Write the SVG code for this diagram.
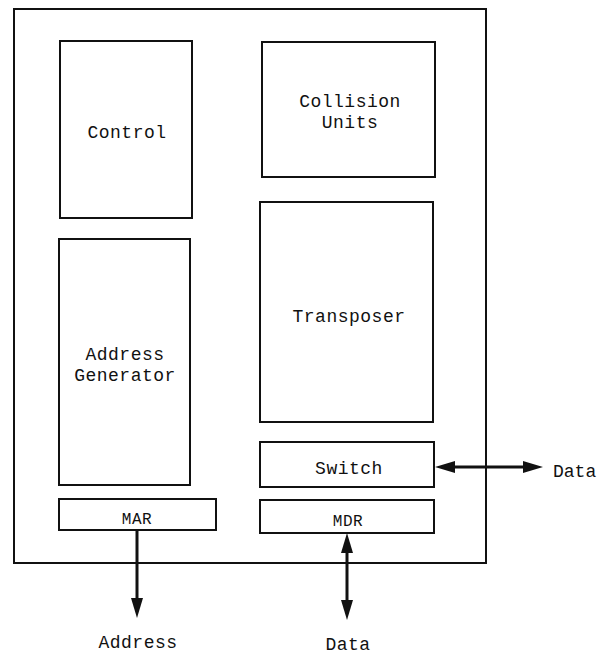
<svg xmlns="http://www.w3.org/2000/svg" width="599" height="654" viewBox="0 0 599 654">
<style>
.box{fill:#fff;stroke:#111;stroke-width:2}
.outer{fill:#fff;stroke:#111;stroke-width:2}
.t{font-family:"Liberation Mono","DejaVu Sans Mono",monospace;font-size:18px;letter-spacing:0.5px;fill:#111;text-anchor:middle}
.s{font-size:16px}
.c{stroke:#111;stroke-width:3;fill:none}
</style>
<defs>
<marker id="ah" viewBox="0 0 20 12" refX="10" refY="6" markerWidth="20" markerHeight="12" markerUnits="userSpaceOnUse" orient="auto-start-reverse">
<path d="M0,0 L20,6 L0,12 z" fill="#111"/>
</marker>
</defs>
<rect width="599" height="654" fill="#fff"/>
<g id="chip"><rect class="outer" x="14" y="9" width="472" height="554"/></g>
<g id="control"><rect class="box" x="60" y="41" width="132" height="177"/><text class="t" x="127" y="138">Control</text></g>
<g id="collision"><rect class="box" x="262" y="42" width="173" height="135"/><text class="t" x="350" y="107">Collision</text><text class="t" x="350" y="128">Units</text></g>
<g id="transposer"><rect class="box" x="260" y="202" width="173" height="220"/><text class="t" x="349" y="322">Transposer</text></g>
<g id="addrgen"><rect class="box" x="59" y="239" width="131" height="246"/><text class="t" x="125" y="360">Address</text><text class="t" x="125" y="381">Generator</text></g>
<g id="switch"><rect class="box" x="260" y="442" width="174" height="45"/><text class="t" x="349" y="474">Switch</text></g>
<g id="mar"><rect class="box" x="59" y="499" width="157" height="31"/><text class="t s" x="137" y="524">MAR</text></g>
<g id="mdr"><rect class="box" x="260" y="500" width="174" height="33"/><text class="t s" x="348" y="526">MDR</text></g>
<g id="labels">
<text class="t" x="553" y="477" style="text-anchor:start;letter-spacing:0">Data</text>
<text class="t" x="138" y="648">Address</text>
<text class="t" x="348" y="650">Data</text>
</g>
<g id="connectors">
<line class="c" x1="137" y1="530" x2="137" y2="608" marker-end="url(#ah)"/>
<line class="c" x1="347" y1="543" x2="347" y2="610" marker-start="url(#ah)" marker-end="url(#ah)"/>
<line class="c" x1="445" y1="467" x2="533" y2="467" marker-start="url(#ah)" marker-end="url(#ah)"/>
</g>
</svg>
